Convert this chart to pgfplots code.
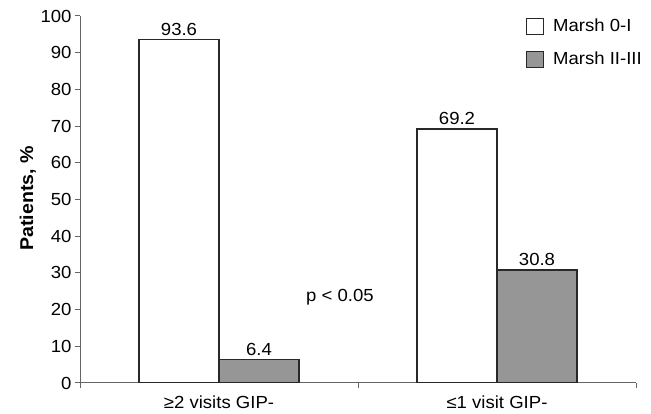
\documentclass[border=0pt]{standalone}
\usepackage{fontspec}
\setmainfont{Liberation Sans}[FakeStretch=1.06]
\usepackage{pgfplots}
\pgfplotsset{compat=1.18}
\definecolor{barg}{RGB}{150,150,150}
\definecolor{edge}{RGB}{40,40,40}
\definecolor{axisg}{RGB}{100,100,100}
\begin{document}
\begin{tikzpicture}[x=1pt,y=1pt]
\useasboundingbox (0,0) rectangle (651,414);
\begin{axis}[
  at={(80pt,31pt)}, anchor=south west,
  width=556pt, height=367pt, scale only axis,
  font=\fontsize{17.5}{21}\selectfont,
  /pgf/number format/assume math mode=true,
  xmin=-0.5, xmax=1.5, ymin=0, ymax=100,
  axis x line*=bottom, axis y line*=left,
  axis line style={axisg, line width=1pt, -},
  ytick={0,10,...,100},
  xtick={-0.5,0.5,1.5}, xticklabels={},
  extra x ticks={0,1},
  extra x tick labels={≥2 visits GIP-, ≤1 visit GIP-},
  extra x tick style={tick style={draw=none}, xticklabel style={yshift=-4pt}},
  tick align=outside, major tick length=5pt,
  tick style={axisg, line width=1pt},
  ybar, bar width=80pt,
  nodes near coords,
  every node near coord/.append style={font=\fontsize{17.5}{21}\selectfont, black},
  legend image code/.code={\draw[#1, line width=1pt] (0pt,-3.5pt) rectangle (17pt,12.5pt);},
  legend style={at={(rel axis cs:0.802,0.994)}, anchor=north west, draw=none, fill=none,
    inner sep=0pt, row sep=16pt, column sep=0pt,
    nodes={inner sep=0pt, anchor=base west, font=\fontsize{17.5}{21}\selectfont}},
  legend cell align=left,
  legend columns=1,
]
\addplot[ybar, bar shift=-40pt, fill=white, draw=edge, line width=1.5pt] coordinates {(0,93.6) (1,69.2)};
\addplot[ybar, bar shift=40pt, fill=barg, draw=edge, line width=1.5pt] coordinates {(0,6.4) (1,30.8)};
\node[font=\fontsize{17.5}{21}\selectfont] at (axis cs:0.435,23.4) {p < 0.05};
\legend{\hspace*{9pt}Marsh 0-I, \hspace*{9pt}Marsh II-III}
\end{axis}
\node[rotate=90, anchor=base, inner sep=0pt, font=\fontsize{18.5}{22}\selectfont\bfseries] at (33,215.5) {Patients, \%};
\end{tikzpicture}
\end{document}
